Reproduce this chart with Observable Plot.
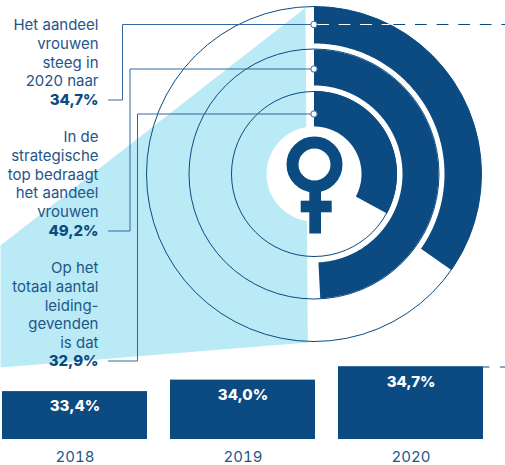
<!DOCTYPE html>
<html>
<head>
<meta charset="utf-8">
<script src="https://cdn.jsdelivr.net/npm/d3@7"></script>
<script src="https://cdn.jsdelivr.net/npm/@observablehq/plot@0.6"></script>
<style>html,body{margin:0;padding:0;background:#fff}</style>
</head>
<body>
<div id="chart"></div>
<script>
const years = [2018, 2019, 2020];
const shareByYear = [33.4, 34.0, 34.7];
const shareLabels = ["33,4%", "34,0%", "34,7%"];
const ringShares = [34.7, 49.2, 32.9];
const ringLabels = ["34,7%", "49,2%", "32,9%"];
const textBlocks = [
  ["Het aandeel", "vrouwen", "steeg in", "2020 naar"],
  ["In de", "strategische", "top bedraagt", "het aandeel", "vrouwen"],
  ["Op het", "totaal aantal", "leiding-", "gevenden", "is dat"]
];

const DARK = "#0b4b82", LIGHT = "#b9eaf6", TEXT = "#1f5688", LEAD = "#30689c";
const FONT = "Inter, 'Noto Sans', sans-serif";

// layout
const cx = 313.5, cy = 173.5;
const ringBands = [[130.5, 167.5], [88.5, 124.5], [47.5, 83]];
const outlineR = [167.5, 125, 82.5];
const leadY = [24, 68.5, 113.5];
const leadX = [122, 129.5, 137];
const valueY = [100, 231, 361];
const blockY = [25, 137, 268];
const lineH = 18.7;

const px = (k) => ({value: (d) => d[k], scale: null});

function arcPoly(share, r0, r1) {
  const end = share / 100 * 2 * Math.PI, n = Math.ceil(share * 6), pts = [];
  for (let i = 0; i <= n; i++) {
    const a = end * i / n;
    pts.push({x: cx + r1 * Math.sin(a), y: cy - r1 * Math.cos(a)});
  }
  for (let i = n; i >= 0; i--) {
    const a = end * i / n;
    pts.push({x: cx + r0 * Math.sin(a), y: cy - r0 * Math.cos(a)});
  }
  return pts;
}

const yearRows = years.map((y, i) => ({year: y, share: shareByYear[i], label: shareLabels[i]}));
const wedge = [{x: 0, y: 245}, {x: 305, y: 7.3}, {x: 307.3, y: 342}, {x: 0, y: 367}];

const textRows = textBlocks.flatMap((b, i) => b.map((t, j) => ({t, x: 98, y: blockY[i] + j * lineH})));
const valueRows = ringLabels.map((t, i) => ({t, x: 98, y: valueY[i]}));
const leaders = ringShares.map((_, i) => [
  {x: 108, y: valueY[i] - 0.5}, {x: leadX[i], y: valueY[i] - 0.5}, {x: leadX[i], y: leadY[i]}, {x: cx, y: leadY[i]}
]);

const chart = Plot.plot({
  width: 505,
  height: 465,
  margin: 0,
  marginBottom: 26,
  style: {background: "#fff", fontFamily: FONT, overflow: "visible"},
  x: {domain: [2018, 2020], range: [74.5, 410.5], label: null},
  y: {domain: [30.9, 34.7], range: [439, 366.2], axis: null, label: null},
  marks: [
    // light wedge
    Plot.line(wedge, {x: px("x"), y: px("y"), fill: LIGHT, stroke: "none", curve: "linear"}),
    // white centre disc
    Plot.dot([{x: cx, y: cy}], {x: px("x"), y: px("y"), r: 47.5, fill: "#fff", stroke: "none"}),
    // dark ring arcs
    ...ringShares.map((s, i) => Plot.line(arcPoly(s, ringBands[i][0], ringBands[i][1]), {
      x: px("x"), y: px("y"), fill: DARK, stroke: "none", curve: "linear"
    })),
    // ring outlines
    ...outlineR.map((r) => Plot.dot([{x: cx, y: cy}], {
      x: px("x"), y: px("y"), r, fill: "none", stroke: DARK, strokeWidth: 1
    })),
    // venus symbol
    Plot.dot([{x: 314, y: 164}], {x: px("x"), y: px("y"), r: 22, fill: "none", stroke: DARK, strokeWidth: 12}),
    Plot.rect([{x1: 309.3, x2: 321, y1: 190, y2: 233.5}, {x1: 300.7, x2: 331.7, y1: 200.7, y2: 212.3}], {
      x1: px("x1"), x2: px("x2"), y1: px("y1"), y2: px("y2"), fill: DARK
    }),
    // dashed guides
    Plot.line([{x: 317, y: leadY[0]}, {x: 389, y: leadY[0]}], {
      x: px("x"), y: px("y"), stroke: "#fff", strokeWidth: 1, strokeDasharray: "11,10.5"
    }),
    Plot.line([{x: 393.3, y: leadY[0]}, {x: 505, y: leadY[0]}], {
      x: px("x"), y: px("y"), stroke: DARK, strokeWidth: 1, strokeDasharray: "11,10.6"
    }),
    Plot.line([{x: 483, y: 366.5}, {x: 505, y: 366.5}], {
      x: px("x"), y: px("y"), stroke: DARK, strokeWidth: 1, strokeDasharray: "5.5,11.5"
    }),
    // leader lines
    ...leaders.map((l) => Plot.line(l, {x: px("x"), y: px("y"), stroke: LEAD, strokeWidth: 1, curve: "linear"})),
    Plot.dot(leadY.map((y) => ({x: cx, y})), {x: px("x"), y: px("y"), r: 3.2, fill: "#fff", stroke: LEAD, strokeWidth: 1}),
    // bars
    Plot.rect(yearRows, {x1: (d) => d.year - 0.4315, x2: (d) => d.year + 0.4315, y1: () => 30.9, y2: "share", fill: DARK}),
    Plot.text(yearRows, {x: "year", y: "share", text: "label", dy: 15, fill: "#fff", fontSize: 15, fontWeight: 800}),
    Plot.axisX({ticks: years, tickFormat: (d) => String(d), tickSize: 0, tickPadding: 12, anchor: "bottom", label: null, fontSize: 15, fill: TEXT}),
    // side text
    Plot.text(textRows, {x: px("x"), y: px("y"), text: "t", textAnchor: "end", fontSize: 15, fill: TEXT}),
    Plot.text(valueRows, {x: px("x"), y: px("y"), text: "t", textAnchor: "end", fontSize: 15, fontWeight: 800, fill: DARK})
  ]
});
document.getElementById("chart").appendChild(chart);
</script>
</body>
</html>
